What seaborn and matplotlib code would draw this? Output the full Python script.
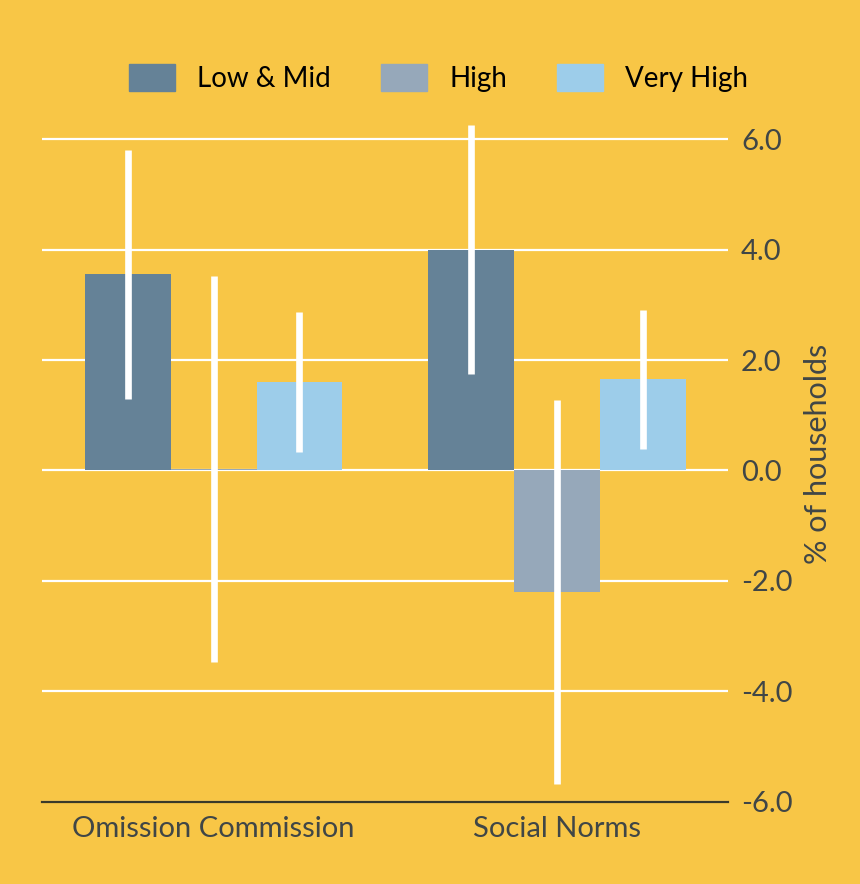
import matplotlib
matplotlib.use("Agg")
import matplotlib.pyplot as plt
import pandas as pd
import seaborn as sns

# Data
categories = ["Omission Commission", "Social Norms"]
groups = ["Low & Mid", "High", "Very High"]
low_mid = [3.55, 4.0]
high = [0.03, -2.2]
very_high = [1.6, 1.65]
low_mid_err = [2.25, 2.25]
high_err = [3.5, 3.48]
very_high_err = [1.27, 1.26]
y_ticks = [-6.0, -4.0, -2.0, 0.0, 2.0, 4.0, 6.0]

bg = "#F8C646"
colors = ["#658297", "#96A8BA", "#9DCDEA"]
text_col = "#404646"

df = pd.DataFrame({
    "category": categories * 3,
    "group": [g for g in groups for _ in categories],
    "value": low_mid + high + very_high,
})
errors = [low_mid_err, high_err, very_high_err]

sns.set_style("white")
plt.rcParams["font.family"] = ["Lato", "DejaVu Sans"]

fig = plt.figure(figsize=(8.6, 8.84), dpi=100, facecolor=bg)
ax = fig.add_axes([0.049, 0.093, 0.798, 0.787], facecolor=bg)

sns.barplot(data=df, x="category", y="value", hue="group", order=categories,
            hue_order=groups, palette=colors, width=0.75, errorbar=None,
            saturation=1, linewidth=0, ax=ax, zorder=2)

# white error bars at the bar centres
for cont, errs in zip(ax.containers, errors):
    xs = [b.get_x() + b.get_width() / 2 for b in cont]
    ax.errorbar(xs, list(cont.datavalues), yerr=errs, fmt="none",
                ecolor="white", elinewidth=4.8, capsize=0, zorder=3)

ax.set_ylim(-6.0, 6.6)
ax.set_xlim(-0.5, 1.5)
ax.set_yticks(y_ticks)
ax.set_yticklabels([f"{t:.1f}" for t in y_ticks])
ax.yaxis.tick_right()
ax.yaxis.set_label_position("right")
ax.grid(axis="y", color="white", linewidth=1.6, zorder=0)
ax.set_axisbelow(True)
for s in ["top", "left", "right"]:
    ax.spines[s].set_visible(False)
ax.spines["bottom"].set_color("#3a3a2a")
ax.spines["bottom"].set_linewidth(1.6)
ax.spines["bottom"].set_zorder(1)

ax.tick_params(axis="y", length=0, pad=9, labelsize=21, labelcolor=text_col)
ax.tick_params(axis="x", direction="in", length=7, width=1.2, color="#3a3a2a",
               pad=10, labelsize=21, labelcolor=text_col)
ax.set_xlabel("")
ax.set_ylabel("% of households", fontsize=22, color=text_col, labelpad=8)

ax.legend_.remove()
handles = [plt.Rectangle((0, 0), 1, 1, color=c) for c in colors]
fig.legend(handles, groups, loc="center", bbox_to_anchor=(0.51, 0.912), ncol=3,
           frameon=False, fontsize=20, handlelength=1.65, handleheight=1.1,
           handletextpad=0.8, columnspacing=1.8, labelcolor="black")

fig.savefig("out.png", dpi=100, facecolor=bg)
